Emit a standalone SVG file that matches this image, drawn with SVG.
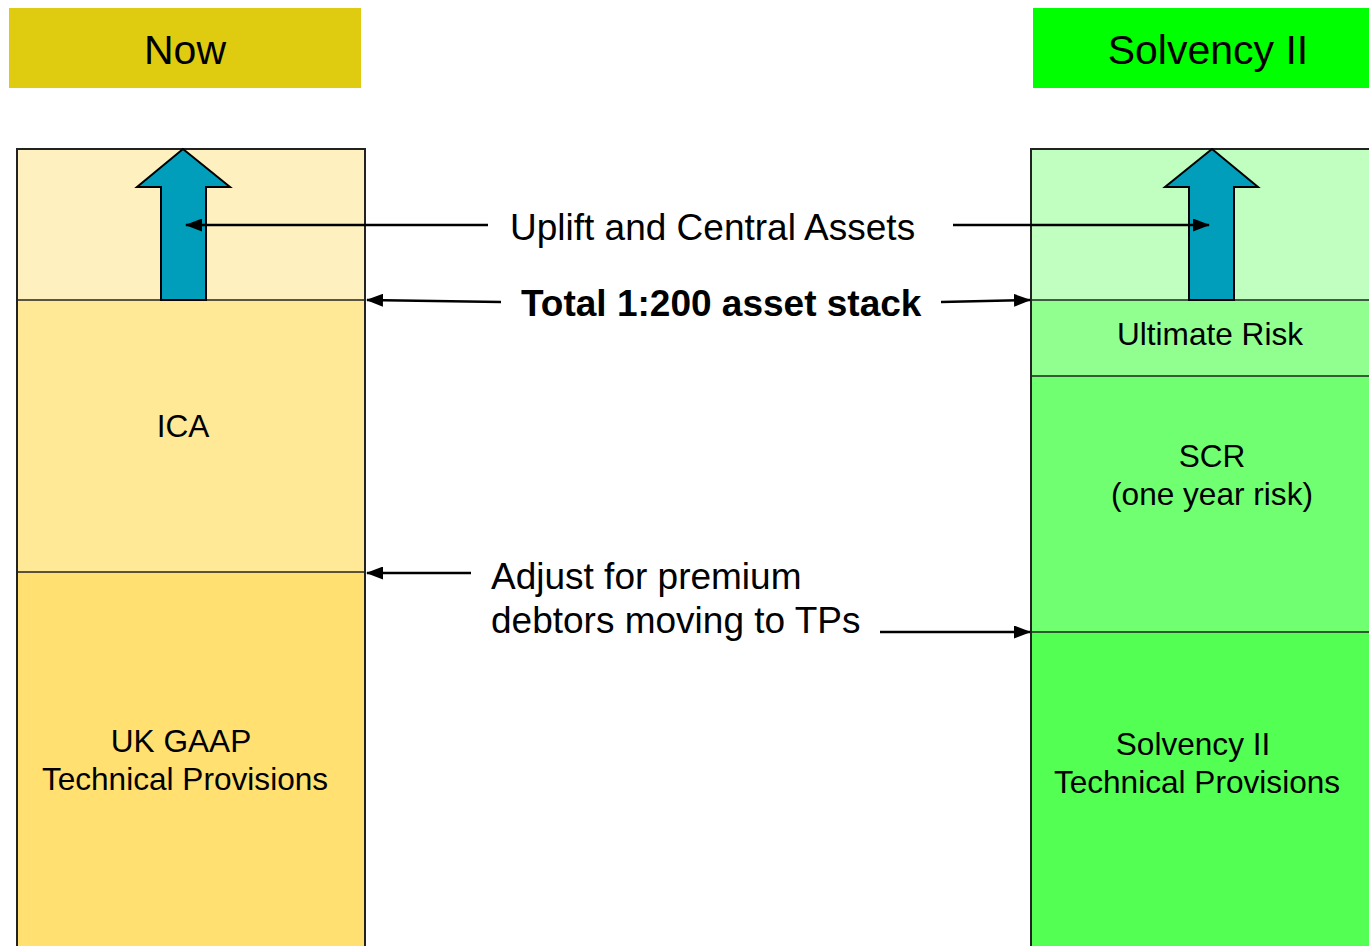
<svg xmlns="http://www.w3.org/2000/svg" width="1369" height="946" viewBox="0 0 1369 946">
<style>
text{font-family:"Liberation Sans",Arial,sans-serif;fill:#000}
.hdr{font-size:41px;text-anchor:middle}
.lbl{font-size:31.6px;text-anchor:middle}
.cap{font-size:37px}
.div{stroke:#222;stroke-width:1.5}
.conn{stroke:#000;stroke-width:2.5;fill:none}
.up{fill:#009EBB;stroke:#000;stroke-width:2;stroke-linejoin:miter}
</style>
<defs>
<marker id="ah" viewBox="0 0 17 13" refX="16" refY="6.5" markerWidth="17" markerHeight="13" markerUnits="userSpaceOnUse" orient="auto">
<path d="M0,0 L17,6.5 L0,13 z" fill="#000"/>
</marker>
</defs>
<rect width="1369" height="946" fill="#fff"/>
<g id="hdr-now"><rect x="9" y="8" width="352" height="80" fill="#DFCC11"/><text class="hdr" x="185" y="64">Now</text></g>
<g id="hdr-sii"><rect x="1033" y="8" width="340" height="80" fill="#00FF00"/><text class="hdr" x="1208" y="64">Solvency II</text></g>
<g id="left-stack">
<rect x="17" y="149" width="348" height="151" fill="#FFF0C0"/>
<rect x="17" y="300" width="348" height="272" fill="#FFE896"/>
<rect x="17" y="572" width="348" height="380" fill="#FFE070"/>
<line class="div" x1="17" y1="300" x2="365" y2="300"/>
<line class="div" x1="17" y1="572" x2="365" y2="572"/>
<rect x="17" y="149" width="348" height="810" fill="none" stroke="#222" stroke-width="2"/>
</g>
<g id="left-uplift"><path class="up" d="M161,300 L161,187 L137,187 L183,149 L230,187 L206,187 L206,300 Z"/></g>
<g id="ica"><text class="lbl" x="183" y="437">ICA</text></g>
<g id="ukgaap"><text class="lbl" x="181" y="752">UK GAAP</text><text class="lbl" x="185" y="790">Technical Provisions</text></g>
<g id="right-stack">
<rect x="1031" y="149" width="345" height="151" fill="#C0FFC0"/>
<rect x="1031" y="300" width="345" height="76" fill="#90FF90"/>
<rect x="1031" y="376" width="345" height="256" fill="#70FF70"/>
<rect x="1031" y="632" width="345" height="320" fill="#52FF52"/>
<line class="div" x1="1031" y1="300" x2="1369" y2="300"/>
<line class="div" x1="1031" y1="376" x2="1369" y2="376"/>
<line class="div" x1="1031" y1="632" x2="1369" y2="632"/>
<rect x="1031" y="149" width="345" height="810" fill="none" stroke="#222" stroke-width="2"/>
</g>
<g id="right-uplift"><path class="up" d="M1189,300 L1189,187 L1165,187 L1212,149 L1258,187 L1234,187 L1234,300 Z"/></g>
<g id="ultimate"><text class="lbl" x="1210" y="345">Ultimate Risk</text></g>
<g id="scr"><text class="lbl" x="1212" y="467">SCR</text><text class="lbl" x="1212" y="505">(one year risk)</text></g>
<g id="siitp"><text class="lbl" x="1193" y="755">Solvency II</text><text class="lbl" x="1197" y="793">Technical Provisions</text></g>
<g id="captions">
<text class="cap" x="510" y="240">Uplift and Central Assets</text>
<text class="cap" x="521" y="316" font-weight="bold">Total 1:200 asset stack</text>
<text class="cap" x="491" y="589">Adjust for premium</text>
<text class="cap" x="491" y="633">debtors moving to TPs</text>
</g>
<g id="connectors">
<line class="conn" x1="488" y1="225" x2="186" y2="225" marker-end="url(#ah)"/>
<line class="conn" x1="953" y1="225" x2="1209" y2="225" marker-end="url(#ah)"/>
<line class="conn" x1="501" y1="302" x2="367" y2="300" marker-end="url(#ah)"/>
<line class="conn" x1="941" y1="302" x2="1030" y2="300" marker-end="url(#ah)"/>
<line class="conn" x1="471" y1="573" x2="367" y2="573" marker-end="url(#ah)"/>
<line class="conn" x1="880" y1="632" x2="1030" y2="632" marker-end="url(#ah)"/>
</g>
</svg>
